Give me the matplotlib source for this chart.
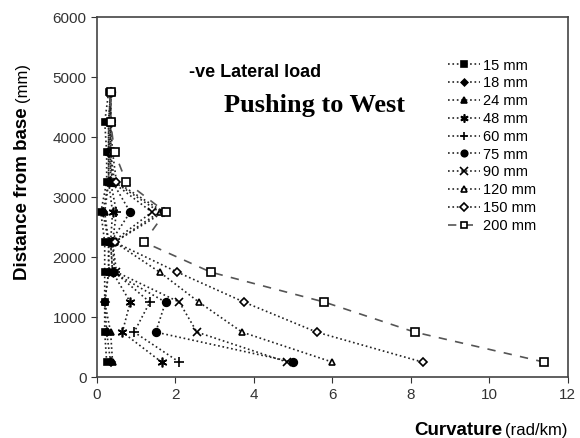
import matplotlib
matplotlib.use('Agg')
import matplotlib.pyplot as plt

plt.rcParams['font.family'] = ['Liberation Sans', 'DejaVu Sans']

# distance from base (mm) of the measuring sections
heights = [250, 750, 1250, 1750, 2250, 2750, 3250, 3750, 4250, 4750]

# curvature (rad/km) for each lateral displacement level
c15 = [0.25, 0.20, 0.20, 0.20, 0.20, 0.10, 0.25, 0.25, 0.20, 0.30]
c18 = [0.35, 0.25, 0.20, 0.30, 0.30, 0.15, 0.30, 0.30, 0.30, 0.35]
c24 = [0.40, 0.35, 0.20, 0.30, 0.30, 0.20, 0.30, 0.30, 0.30, 0.35]
c48 = [1.65, 0.65, 0.85, 0.40, 0.35, 0.40, 0.30, 0.30, 0.35, 0.35]
c60 = [2.10, 0.95, 1.35, 0.45, 0.40, 0.50, 0.35, 0.35, 0.35, 0.35]
c75 = [5.00, 1.50, 1.75, 0.40, 0.35, 0.85, 0.40, 0.30, 0.30, 0.35]
c90 = [4.85, 2.55, 2.10, 0.50, 0.40, 1.40, 0.40, 0.35, 0.35, 0.35]
c120 = [6.00, 3.70, 2.60, 1.60, 0.45, 1.60, 0.45, 0.35, 0.35, 0.35]
c150 = [8.30, 5.60, 3.75, 2.05, 0.45, 1.70, 0.50, 0.40, 0.35, 0.35]
c200 = [11.40, 8.10, 5.80, 2.90, 1.20, 1.75, 0.75, 0.45, 0.35, 0.35]

labels = ['15 mm', '18 mm', '24 mm', '48 mm', '60 mm',
          '75 mm', '90 mm', '120 mm', '150 mm', '200 mm']
series = [c15, c18, c24, c48, c60, c75, c90, c120, c150, c200]

# marker, filled?, size
styles = [('s', True, 5), ('D', True, 4), ('^', True, 5), ((6, 2, 0), True, 7),
          ('+', True, 7), ('o', True, 5.5), ('x', True, 6), ('^', False, 5),
          ('D', False, 4.5), ('s', False, 5.5)]

fig = plt.figure(figsize=(5.8, 4.38), dpi=100)
ax = fig.add_axes([0.167, 0.139, 0.812, 0.822])

for vals, lab, (mk, filled, ms) in zip(series, labels, styles):
    if lab == '200 mm':
        ls = (0, (5, 5))
        col = '#555555'
    else:
        ls = ':'
        col = '#222222'
    ax.plot(vals, heights, linestyle=ls, color=col, linewidth=1.2,
            marker=mk, markersize=ms, markeredgewidth=1.2,
            markerfacecolor='black' if filled else 'white',
            markeredgecolor='black', label=lab)

ax.set_xlim(0, 12)
ax.set_ylim(0, 6000)
ax.set_xticks(range(0, 13, 2))
ax.set_yticks(range(0, 6001, 1000))
ax.tick_params(direction='out', length=4, labelsize=11, colors='#333333')
for s in ax.spines.values():
    s.set_color('#444444')
    s.set_linewidth(1.2)

ax.text(2.35, 5080, '-ve Lateral load', fontsize=13, fontweight='bold',
        va='center', ha='left')
ax.text(5.55, 4530, 'Pushing to West', fontsize=19, fontweight='bold',
        family='Liberation Serif', va='center', ha='center')

leg = ax.legend(loc='upper left', bbox_to_anchor=(0.73, 0.905), frameon=False,
                fontsize=10.5, handlelength=2.2, handletextpad=0.2,
                labelspacing=0.26, borderpad=0, markerscale=0.85)

# axis titles with mixed weights
fig.text(0.866, 0.018, 'Curvature', fontsize=13.5, fontweight='bold',
         ha='right', va='center')
fig.text(0.871, 0.018, '(rad/km)', fontsize=12, ha='left', va='center')
fig.text(0.038, 0.557, 'Distance from base', fontsize=13.5, fontweight='bold',
         rotation=90, ha='center', va='center')
fig.text(0.038, 0.812, '(mm)', fontsize=12, rotation=90,
         ha='center', va='center')

fig.savefig('out.png', dpi=100)
